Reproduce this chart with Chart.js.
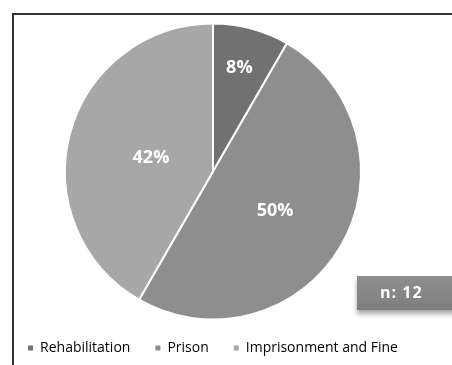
<!DOCTYPE html>
<html>
<head>
<meta charset="utf-8">
<script src="https://cdn.jsdelivr.net/npm/chart.js@4.4.1/dist/chart.umd.min.js"></script>
<style>
  html, body { margin: 0; padding: 0; background: #fff; }
  #wrap { position: relative; width: 452px; height: 365px; overflow: hidden; }
  #frame { position: absolute; left: 12px; top: 13px; width: 460px; height: 370px;
    border-left: 2px solid #333; border-top: 2px solid #333; }
  #chart { position: absolute; left: 0; top: 0; }
  #nbox { position: absolute; left: 357px; top: 276px; width: 100px; height: 34px;
    background: linear-gradient(#8e8e8e, #7e7e7e); box-shadow: 0 4px 5px rgba(0,0,0,0.35);
    color: #fff; font: bold 16px "Open Sans", sans-serif; letter-spacing: 1px; line-height: 32px;
    padding-left: 23px; box-sizing: border-box; }
</style>
</head>
<body>
<div id="wrap">
  <div id="frame"></div>
  <canvas id="chart" width="452" height="365"></canvas>
  <div id="nbox"></div>
</div>
<script>
// survey answers (n = 12)
const categories = ['Rehabilitation', 'Prison', 'Imprisonment and Fine'];
const counts = [1, 6, 5];
const sliceColors = ['#717171', '#8e8e8e', '#a7a7a7'];
// how far out (fraction of radius) each percentage label sits
const labelRadius = [0.74, 0.5, 0.42];

const total = counts.reduce((a, b) => a + b, 0);
document.getElementById('nbox').textContent = 'n: ' + total;

// draws the white percentage labels inside the slices
const sliceLabels = {
  id: 'sliceLabels',
  afterDatasetsDraw(chart) {
    const ctx = chart.ctx;
    const meta = chart.getDatasetMeta(0);
    ctx.save();
    ctx.fillStyle = '#fff';
    ctx.font = 'bold 18px "Open Sans", sans-serif';
    ctx.textAlign = 'center';
    ctx.textBaseline = 'middle';
    meta.data.forEach((arc, i) => {
      const mid = (arc.startAngle + arc.endAngle) / 2;
      const r = arc.outerRadius * labelRadius[i];
      const pct = Math.round(counts[i] / total * 100) + '%';
      ctx.fillText(pct, arc.x + Math.cos(mid) * r - 2, arc.y + Math.sin(mid) * r + 2);
    });
    ctx.restore();
  }
};

new Chart(document.getElementById('chart'), {
  type: 'pie',
  data: {
    labels: categories,
    datasets: [{
      data: counts,
      backgroundColor: sliceColors,
      borderColor: '#fff',
      borderWidth: 2,
      hoverOffset: 0
    }]
  },
  options: {
    responsive: false,
    animation: false,
    radius: 148,
    layout: { padding: { top: 27, left: 0, right: 26, bottom: 0 } },
    plugins: {
      tooltip: { enabled: false },
      legend: {
        position: 'bottom',
        labels: {
          usePointStyle: true,
          pointStyle: 'rect',
          boxWidth: 5,
          boxHeight: 5,
          padding: 25,
          color: '#595959',
          font: { family: '"Open Sans", sans-serif', size: 14 },
          generateLabels(chart) {
            return categories.map((c, i) => ({
              text: c,
              fillStyle: sliceColors[i],
              strokeStyle: sliceColors[i],
              lineWidth: 0,
              pointStyle: 'rect',
              index: i
            }));
          }
        }
      }
    }
  },
  plugins: [sliceLabels]
});
</script>
</body>
</html>
